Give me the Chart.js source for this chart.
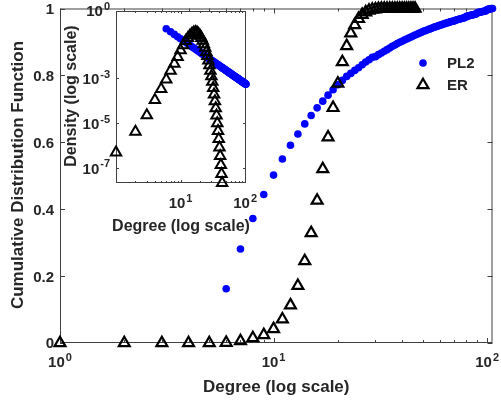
<!DOCTYPE html>
<html>
<head>
<meta charset="utf-8">
<script src="https://cdn.jsdelivr.net/npm/chart.js@4.4.0/dist/chart.umd.min.js"></script>
<style>
  html, body { margin: 0; padding: 0; background: #fff; }
  #wrap { position: relative; width: 501px; height: 401px; }
  canvas { position: absolute; left: 0; top: 0; }
</style>
</head>
<body>
<div id="wrap">
  <canvas id="mainChart" width="501" height="401"></canvas>
  <canvas id="insetChart" width="260" height="240"></canvas>
</div>
<script>
// main plot: cumulative distribution
const erDegrees = [1, 2, 3, 4, 5, 6, 7, 8, 9, 10, 11, 12, 13, 14, 15, 16, 17, 18, 19, 20,
  21, 22, 23, 24, 25, 26, 27, 28, 29, 30, 31, 32, 33, 34, 35, 36, 37, 38, 39, 40,
  41, 42, 43, 44, 45, 46];
const erCdf = [0, 0, 0, 0, 0, 0.001, 0.006, 0.015, 0.024, 0.042, 0.071, 0.113, 0.171, 0.245, 0.329, 0.426, 0.52, 0.615, 0.703, 0.776,
  0.84, 0.888, 0.926, 0.951, 0.969, 0.981, 0.989, 0.994, 0.997, 0.998, 0.999, 1, 1, 1, 1, 1, 1, 1, 1, 1,
  1, 1, 1, 1, 1, 1];

const plDegrees = [6, 7, 8, 9, 10, 11, 12, 13, 14, 15, 16, 17, 18, 19, 20, 21, 22, 23, 24, 25,
  26, 27, 28, 29, 30, 31, 32, 33, 34, 35, 36, 37, 38, 39, 40, 41, 42, 43, 44, 45,
  46, 47, 48, 49, 50, 51, 52, 53, 54, 55, 56, 57, 58, 59, 60, 61, 62, 63, 64, 65,
  66, 67, 68, 69, 70, 71, 72, 73, 74, 75, 76, 77, 78, 79, 80, 81, 82, 83, 84, 85,
  86, 87, 88, 89, 90, 91, 92, 93, 94, 95, 96, 97, 98, 99, 100, 101, 102, 103, 104, 105, 106];
const plCdf = [0.162, 0.281, 0.372, 0.444, 0.502, 0.55, 0.591, 0.625, 0.655, 0.68, 0.703, 0.723, 0.741, 0.757, 0.772, 0.785, 0.797, 0.806, 0.815, 0.823,
  0.832, 0.84, 0.847, 0.854, 0.856, 0.862, 0.867, 0.872, 0.877, 0.882, 0.887, 0.891, 0.895, 0.899, 0.902, 0.906, 0.909, 0.912, 0.915, 0.918,
  0.921, 0.923, 0.926, 0.928, 0.931, 0.933, 0.935, 0.937, 0.939, 0.941, 0.943, 0.945, 0.946, 0.948, 0.95, 0.951, 0.953, 0.954, 0.956, 0.957,
  0.958, 0.96, 0.961, 0.962, 0.963, 0.964, 0.966, 0.967, 0.968, 0.969, 0.97, 0.971, 0.972, 0.973, 0.977, 0.977, 0.978, 0.979, 0.98, 0.981,
  0.981, 0.982, 0.983, 0.984, 0.987, 0.988, 0.989, 0.989, 0.99, 0.991, 0.991, 0.992, 0.993, 0.993, 0.997, 0.997, 0.998, 0.999, 0.999, 1, 1];

// inset: density on log-log axes
const insetErDegrees = [1, 2, 3, 4, 5, 6, 7, 8, 9, 10, 11, 12, 13, 14, 15, 16, 17, 18, 19, 20,
  21, 22, 23, 24, 25, 26, 27, 28, 29, 30, 31, 32, 33, 34, 35, 36, 37, 38, 39, 40,
  41, 42, 43, 44];
const insetErDensity = [5.0e-7, 4.2e-6, 2.3e-5, 1.1e-4, 3.4e-4, 8.9e-4, 2.2e-3, 4.5e-3, 8.9e-3, 0.0178,
  0.0302, 0.0457, 0.063, 0.0813, 0.0977, 0.1096, 0.1148, 0.1096, 0.0955, 0.0794,
  0.063, 0.0468, 0.0331, 0.0229, 0.0151, 0.01, 6.3e-3, 3.8e-3, 2.2e-3, 1.26e-3,
  7.1e-4, 3.7e-4, 1.9e-4, 9.5e-5, 4.7e-5, 2.2e-5, 1.0e-5, 4.5e-6, 2.0e-6, 8.3e-7,
  3.5e-7, 1.4e-7, 5.6e-8, 2.2e-8];

const insetPlDegrees = [6, 7, 8, 9, 10, 11, 12, 13, 14, 15, 16, 17, 18, 19, 20, 21, 22, 23, 24, 25,
  26, 27, 28, 29, 30, 31, 32, 33, 34, 35, 36, 37, 38, 39, 40, 41, 42, 43, 44, 45,
  46, 47, 48, 49, 50, 51, 52, 53, 54, 55, 56, 57, 58, 59, 60, 61, 62, 63, 64, 65,
  66, 67, 68, 69, 70, 71, 72, 73, 74, 75, 76, 77, 78, 79, 80, 81, 82, 83, 84, 85,
  86, 87, 88, 89, 90, 91, 92, 93, 94, 95, 96, 97, 98, 99, 100, 101, 102, 103];
const insetPlDensity = [0.1611, 0.1184, 0.0906, 0.0716, 0.058, 0.0479, 0.0403, 0.0343, 0.0296, 0.0258,
  0.0227, 0.0201, 0.0179, 0.0161, 0.0145, 0.01315, 0.01198, 0.01096, 0.01007, 0.00928,
  0.00858, 0.00796, 0.0074, 0.0069, 0.00644, 0.00604, 0.00566, 0.00533, 0.00502, 0.00473,
  0.00448, 0.00424, 0.00402, 0.00381, 0.00363, 0.00345, 0.00329, 0.00314, 0.003, 0.00286,
  0.00274, 0.00263, 0.00252, 0.00242, 0.00232, 0.00223, 0.00214, 0.00206, 0.00199, 0.00192,
  0.00185, 0.00179, 0.00172, 0.00167, 0.00161, 0.00156, 0.00151, 0.00146, 0.00142, 0.00137,
  0.00133, 0.00129, 0.00125, 0.00122, 0.00118, 0.00115, 0.00112, 0.00109, 0.00106, 0.00103,
  0.001, 0.00098, 0.00095, 0.00093, 0.00091, 0.00088, 0.00086, 0.00084, 0.00082, 0.0008,
  0.00078, 0.00077, 0.00075, 0.00073, 0.00072, 0.0007, 0.00069, 0.00067, 0.00066, 0.00064,
  0.00063, 0.00062, 0.0006, 0.00059, 0.00058, 0.00057, 0.00056, 0.00055];

// ticks
const mainYTicks = [0, 0.2, 0.4, 0.6, 0.8, 1];
const mainYLabels = ['0', '0.2', '0.4', '0.6', '0.8', '1'];
const mainXTicks = [1, 10, 100];
const mainXExp = ['0', '1', '2'];
const logMinor = [2, 3, 4, 5, 6, 7, 8, 9, 20, 30, 40, 50, 60, 70, 80, 90];
const insetXTicks = [10, 100];
const insetXExp = ['1', '2'];
const insetYTicks = [1, 1e-3, 1e-5, 1e-7];
const insetYExp = ['0', '-3', '-5', '-7'];

const fontFamily = '"Liberation Sans", Arial, Helvetica, sans-serif';
const inkColor = '#262626';
const axisColor = '#404040';

function bold(size) {
  return 'bold ' + size + 'px ' + fontFamily;
}

// "10" with a raised exponent, like matlab tick labels
function powLabel(ctx, exp, x, y, align, size) {
  const supSize = Math.round(size * 0.72);
  ctx.font = bold(size);
  const w1 = ctx.measureText('10').width;
  ctx.font = bold(supSize);
  const w2 = ctx.measureText(exp).width;
  const w = w1 + w2 + 1;
  let left = x;
  if (align === 'center') left = x - w / 2;
  if (align === 'right') left = x - w;
  ctx.textAlign = 'left';
  ctx.textBaseline = 'alphabetic';
  ctx.font = bold(size);
  ctx.fillText('10', left, y + size * 0.36);
  ctx.font = bold(supSize);
  ctx.fillText(exp, left + w1 + 1, y - size * 0.05);
}

function axesPlugin(o) {
  return {
    id: 'boxAxes',
    beforeDatasetsDraw(chart) {
      const ctx = chart.ctx;
      const a = chart.chartArea;
      const x = chart.scales.x;
      const y = chart.scales.y;
      ctx.save();
      if (o.fill) {
        ctx.fillStyle = '#fff';
        ctx.fillRect(a.left, a.top, a.right - a.left, a.bottom - a.top);
      }
      ctx.strokeStyle = axisColor;
      ctx.lineWidth = 1;
      ctx.strokeRect(a.left + 0.5, a.top + 0.5, a.right - a.left - 1, a.bottom - a.top - 1);

      ctx.beginPath();
      const xTick = (v, len) => {
        const px = Math.round(x.getPixelForValue(v)) + 0.5;
        ctx.moveTo(px, a.bottom); ctx.lineTo(px, a.bottom - len);
        ctx.moveTo(px, a.top); ctx.lineTo(px, a.top + len);
      };
      const yTick = (v, len) => {
        const py = Math.round(y.getPixelForValue(v)) + 0.5;
        ctx.moveTo(a.left, py); ctx.lineTo(a.left + len, py);
        ctx.moveTo(a.right, py); ctx.lineTo(a.right - len, py);
      };
      o.xMajor.forEach(v => xTick(v, o.majorLen));
      o.xMinor.forEach(v => { if (v < x.max) xTick(v, o.minorLen); });
      o.yMajor.forEach(v => yTick(v, o.majorLen));
      ctx.stroke();

      ctx.fillStyle = inkColor;
      // x tick labels
      o.xLabelTicks.forEach((v, i) => {
        powLabel(ctx, o.xExp[i], x.getPixelForValue(v), a.bottom + o.xLabelGap, 'center', o.tickSize);
      });
      // y tick labels
      o.yMajor.forEach((v, i) => {
        const py = y.getPixelForValue(v);
        if (o.yExp) {
          powLabel(ctx, o.yExp[i], a.left - o.yLabelGap, py, 'right', o.tickSize);
        } else {
          ctx.font = bold(o.tickSize);
          ctx.textAlign = 'right';
          ctx.textBaseline = 'alphabetic';
          ctx.fillText(o.yLabels[i], a.left - o.yLabelGap, py + o.tickSize * 0.36);
        }
      });
      // axis titles
      ctx.font = bold(o.titleSize);
      ctx.textAlign = 'center';
      ctx.textBaseline = 'alphabetic';
      ctx.fillText(o.xTitle, (a.left + a.right) / 2, o.xTitleY);
      ctx.save();
      ctx.translate(o.yTitleX, o.yTitleMid);
      ctx.rotate(-Math.PI / 2);
      ctx.textBaseline = 'middle';
      ctx.fillText(o.yTitle, 0, 0);
      ctx.restore();
      ctx.restore();
    }
  };
}

// manual legend in the lower right of the box
const legendPlugin = {
  id: 'plainLegend',
  afterDraw(chart) {
    const ctx = chart.ctx;
    ctx.save();
    ctx.fillStyle = '#0000ff';
    ctx.beginPath();
    ctx.arc(423, 63, 3.8, 0, Math.PI * 2);
    ctx.fill();
    ctx.strokeStyle = '#000';
    ctx.lineWidth = 2.2;
    ctx.beginPath();
    ctx.moveTo(423, 85 - 6.3);
    ctx.lineTo(423 + 5.5, 85 + 3.2);
    ctx.lineTo(423 - 5.5, 85 + 3.2);
    ctx.closePath();
    ctx.stroke();
    ctx.fillStyle = inkColor;
    ctx.font = bold(15);
    ctx.textAlign = 'left';
    ctx.textBaseline = 'alphabetic';
    ctx.fillText('PL2', 447, 63 + 5.4);
    ctx.fillText('ER', 447, 85 + 5.4);
    ctx.restore();
  }
};

function points(xs, ys) {
  return xs.map((d, i) => ({ x: d, y: ys[i] }));
}

const mainChart = new Chart(document.getElementById('mainChart'), {
  type: 'scatter',
  data: {
    datasets: [
      {
        label: 'ER',
        data: points(erDegrees, erCdf),
        pointStyle: 'triangle',
        pointRadius: 6.3,
        pointBorderWidth: 2.2,
        pointBorderColor: '#000',
        pointBackgroundColor: 'rgba(0,0,0,0)',
        clip: false,
        order: 1
      },
      {
        label: 'PL2',
        data: points(plDegrees, plCdf),
        pointStyle: 'circle',
        pointRadius: 3.8,
        pointBorderWidth: 0,
        pointBackgroundColor: '#0000ff',
        clip: false,
        order: 2
      }
    ]
  },
  options: {
    responsive: false,
    animation: false,
    events: [],
    layout: { padding: { left: 60, top: 8, right: 6, bottom: 58 } },
    scales: {
      x: { type: 'logarithmic', min: 1, max: 106, display: false },
      y: { type: 'linear', min: 0, max: 1, display: false }
    },
    plugins: { legend: { display: false }, tooltip: { enabled: false } }
  },
  plugins: [axesPlugin({
    xMajor: mainXTicks, xMinor: logMinor, yMajor: mainYTicks,
    majorLen: 5, minorLen: 3,
    xLabelTicks: mainXTicks, xExp: mainXExp, xLabelGap: 19,
    yLabels: mainYLabels, yLabelGap: 6,
    tickSize: 15, titleSize: 17,
    xTitle: 'Degree (log scale)', xTitleY: 392,
    yTitle: 'Cumulative Distribution Function', yTitleX: 18, yTitleMid: 175
  }), legendPlugin]
});

const insetChart = new Chart(document.getElementById('insetChart'), {
  type: 'scatter',
  data: {
    datasets: [
      {
        label: 'ER',
        data: points(insetErDegrees, insetErDensity),
        pointStyle: 'triangle',
        pointRadius: 6,
        pointBorderWidth: 2,
        pointBorderColor: '#000',
        pointBackgroundColor: 'rgba(0,0,0,0)',
        clip: false,
        order: 1
      },
      {
        label: 'PL2',
        data: points(insetPlDegrees, insetPlDensity),
        pointStyle: 'circle',
        pointRadius: 3.8,
        pointBorderWidth: 0,
        pointBackgroundColor: '#0000ff',
        clip: false,
        order: 2
      }
    ]
  },
  options: {
    responsive: false,
    animation: false,
    events: [],
    layout: { padding: { left: 116, top: 11, right: 14, bottom: 57 } },
    scales: {
      x: { type: 'logarithmic', min: 1, max: 103, display: false },
      y: { type: 'logarithmic', min: 2.2e-8, max: 1, display: false }
    },
    plugins: { legend: { display: false }, tooltip: { enabled: false } }
  },
  plugins: [axesPlugin({
    fill: true,
    xMajor: [1, 10, 100], xMinor: logMinor, yMajor: insetYTicks,
    majorLen: 3, minorLen: 2,
    xLabelTicks: insetXTicks, xExp: insetXExp, xLabelGap: 20,
    yExp: insetYExp, yLabelGap: 6,
    tickSize: 15, titleSize: 16,
    xTitle: 'Degree (log scale)', xTitleY: 231,
    yTitle: 'Density (log scale)', yTitleX: 72, yTitleMid: 96
  })]
});
</script>
</body>
</html>
